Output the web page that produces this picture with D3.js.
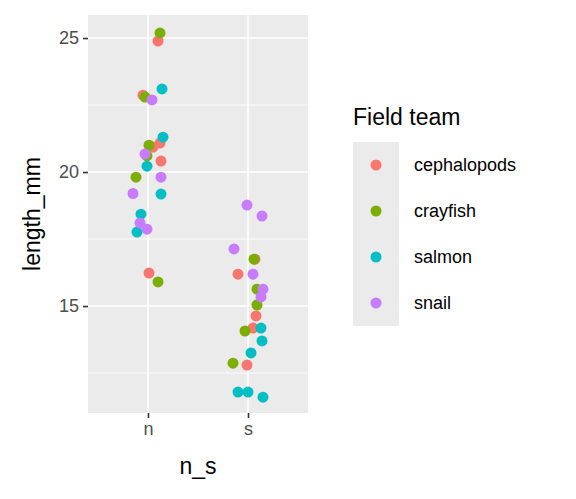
<!DOCTYPE html>
<html><head><meta charset="utf-8">
<script src="https://cdn.jsdelivr.net/npm/d3@7"></script>
<style>body{margin:0;background:#fff}text{font-family:"Liberation Sans",Arial,sans-serif}</style>
</head><body><div id="chart"></div>
<script>
const teams = ["cephalopods", "crayfish", "salmon", "snail"]
const colors = ["#F8766D", "#7CAE00", "#00BFC4", "#C77CFF"]
const sites = ["n", "s"]
// jittered x position (1 = n, 2 = s) and length_mm per team
const cephX = [1.10, 0.95, 1.12, 1.05, 1.13, 1.01, 2.07, 1.90, 2.08, 2.05, 1.99]
const cephY = [24.89, 22.87, 21.08, 20.93, 20.41, 16.23, 16.75, 16.19, 14.63, 14.18, 12.8]
const crayX = [1.12, 0.97, 1.01, 0.99, 0.88, 1.10, 2.06, 2.09, 2.09, 1.97, 1.85]
const crayY = [25.19, 22.8, 21.0, 20.6, 19.81, 15.9, 16.75, 15.63, 15.04, 14.07, 12.87]
const salmX = [1.14, 1.15, 0.99, 1.13, 0.93, 0.89, 2.13, 2.14, 2.03, 1.90, 2.00, 2.15]
const salmY = [23.1, 21.3, 20.22, 19.18, 18.43, 17.76, 14.18, 13.7, 13.25, 11.79, 11.79, 11.6]
const snailX = [1.04, 0.97, 1.13, 0.85, 0.92, 0.99, 1.99, 2.14, 1.86, 2.05, 2.15, 2.13]
const snailY = [22.69, 20.67, 19.81, 19.2, 18.1, 17.87, 18.77, 18.36, 17.13, 16.19, 15.63, 15.34]
const yTicks = [15, 20, 25]
const yMinor = [12.5, 17.5, 22.5]

const series = [[cephX, cephY], [crayX, crayY], [salmX, salmY], [snailX, snailY]]

const svg = d3.select("#chart").append("svg").attr("width", 576).attr("height", 499)
const panel = { left: 88, right: 308, top: 15, bottom: 413 }

const x = d3.scaleLinear().domain([0.4, 2.6]).range([panel.left, panel.right])
const y = d3.scaleLinear().domain([11.01, 25.86]).range([panel.bottom, panel.top])

svg.append("rect").attr("x", panel.left).attr("y", panel.top)
    .attr("width", panel.right - panel.left).attr("height", panel.bottom - panel.top).attr("fill", "#EBEBEB")

svg.selectAll(".minor").data(yMinor).join("line")
    .attr("x1", panel.left).attr("x2", panel.right).attr("y1", d => y(d)).attr("y2", d => y(d))
    .attr("stroke", "#fff").attr("stroke-width", 0.8)
svg.selectAll(".major").data(yTicks).join("line")
    .attr("x1", panel.left).attr("x2", panel.right).attr("y1", d => y(d)).attr("y2", d => y(d))
    .attr("stroke", "#fff").attr("stroke-width", 1.6)
svg.selectAll(".vmajor").data([1, 2]).join("line")
    .attr("y1", panel.top).attr("y2", panel.bottom).attr("x1", d => x(d)).attr("x2", d => x(d))
    .attr("stroke", "#fff").attr("stroke-width", 1.6)

// axes
const yAxis = svg.append("g").attr("transform", `translate(${panel.left},0)`)
    .call(d3.axisLeft(y).tickValues(yTicks).tickSize(5).tickPadding(4))
const xAxis = svg.append("g").attr("transform", `translate(0,${panel.bottom})`)
    .call(d3.axisBottom(x).tickValues([1, 2]).tickFormat((d, i) => sites[i]).tickSize(5).tickPadding(4))
for (const ax of [yAxis, xAxis]) {
    ax.select(".domain").remove()
    ax.selectAll("line").attr("stroke", "#333").attr("stroke-width", 1.6)
    ax.selectAll("text").attr("fill", "#4D4D4D").style("font-size", "18px")
}

series.forEach(([xs, ys], k) => {
    svg.append("g").selectAll("circle").data(xs).join("circle")
        .attr("cx", d => x(d)).attr("cy", (d, i) => y(ys[i])).attr("r", 5.5)
        .attr("fill", colors[k])
})

svg.append("text").attr("x", (panel.left + panel.right) / 2).attr("y", 474)
    .attr("text-anchor", "middle").style("font-size", "23px").text("n_s")
svg.append("text").attr("transform", "translate(40,214) rotate(-90)")
    .attr("text-anchor", "middle").style("font-size", "23px").text("length_mm")

// legend
svg.append("text").attr("x", 353).attr("y", 125).style("font-size", "23px").text("Field team")
const leg = svg.append("g").selectAll("g").data(teams).join("g")
    .attr("transform", (d, i) => `translate(353,${142 + i * 46})`)
leg.append("rect").attr("width", 46).attr("height", 46).attr("fill", "#EBEBEB")
leg.append("circle").attr("cx", 23).attr("cy", 23).attr("r", 5.5).attr("fill", (d, i) => colors[i])
leg.append("text").attr("x", 61).attr("y", 29).style("font-size", "18px").text(d => d)
</script></body></html>
